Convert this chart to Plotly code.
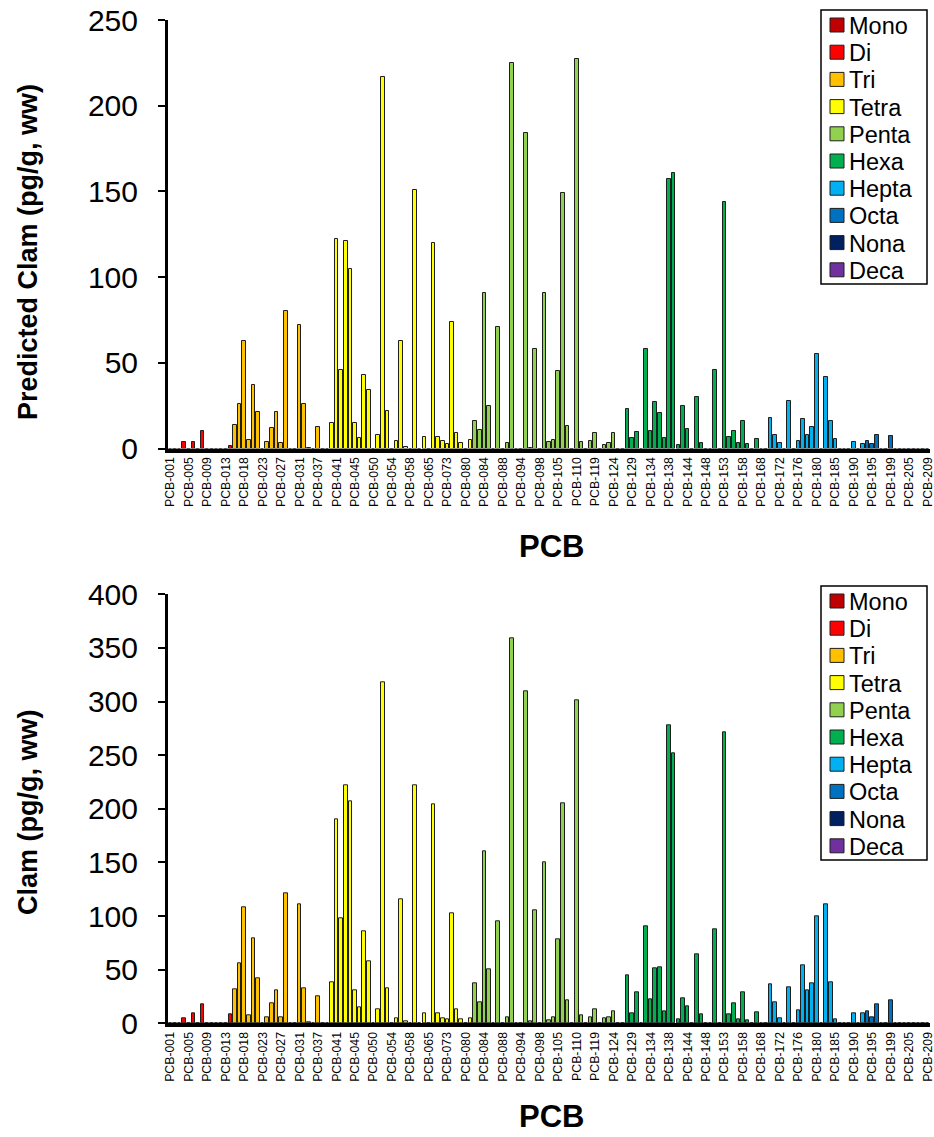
import plotly.graph_objects as go

# Congener numbers in elution/report order (165 reported PCB congeners)
congener_numbers = [
    1, 2, 3, 4, 5, 6, 7, 8, 9, 10, 11, 12, 13, 15, 16, 17, 18, 19, 20, 22,
    23, 24, 25, 26, 27, 28, 29, 30, 31, 32, 34, 35, 37, 38, 39, 40, 41, 42, 43, 44,
    45, 46, 47, 49, 50, 51, 52, 53, 54, 55, 56, 57, 58, 59, 61, 63, 65, 67, 69, 71,
    73, 74, 77, 78, 80, 81, 82, 83, 84, 85, 86, 87, 88, 89, 91, 92, 94, 95, 96, 97,
    98, 100, 102, 104, 105, 106, 107, 108, 110, 111, 114, 117, 119, 120, 121, 122, 124, 126, 127, 128,
    129, 130, 131, 132, 134, 135, 136, 137, 138, 139, 141, 142, 144, 145, 146, 147, 148, 149, 151, 152,
    153, 154, 155, 156, 158, 159, 162, 165, 168, 169, 170, 171, 172, 173, 174, 175, 176, 177, 178, 179,
    180, 181, 182, 183, 185, 186, 187, 189, 190, 191, 193, 194, 195, 196, 197, 198, 199, 200, 201, 202,
    205, 206, 207, 208, 209,
]
congeners = [f"PCB-{n:03d}" for n in congener_numbers]

# Predicted clam tissue concentrations (pg/g, ww), one value per congener
predicted_clam = [
    0, 0, 0, 4, 0, 4, 0, 10.5, 0, 0,
    0, 0, 0, 1.5, 14, 26, 63, 5, 37, 21.5,
    0, 4, 12, 21.5, 3.4, 80, 0, 0, 72, 26,
    0.5, 0, 12.7, 0, 0, 14.7, 122, 46, 121, 105,
    15, 6.3, 43, 34, 0, 8, 217, 22, 0, 4.5,
    63, 1, 0, 151, 0, 6.5, 0, 120, 7, 4.4,
    2.6, 74, 8.8, 3, 0, 5, 16, 11, 91, 25,
    0, 71, 0, 3, 225, 0, 0, 184, 0.5, 58,
    0, 91, 3.6, 5, 45, 149, 13.3, 0, 227, 3.8,
    0, 4.6, 8.8, 0, 2, 3, 8.8, 0, 0, 22.8,
    6, 9.8, 0, 58, 10.4, 27.3, 20.5, 5.9, 157, 161,
    2, 24.8, 11.5, 0, 29.8, 3, 0, 0, 46, 0,
    144, 6.5, 10.4, 3, 16.2, 2.6, 0, 5.4, 0, 0,
    17.6, 7.7, 3, 0, 27.9, 0, 4.2, 17, 7.7, 12.7,
    55, 0, 41.9, 16.2, 5.4, 0, 0, 0, 4, 0,
    2.6, 4.5, 2.6, 7.7, 0, 0, 7.1, 0, 0, 0,
    0, 0, 0, 0, 0,
]

# Measured clam tissue concentrations (pg/g, ww)
measured_clam = [
    0, 0, 0, 5, 0, 9, 0, 18, 0, 0,
    0, 0, 0, 8.5, 32, 56, 108, 7, 79, 42,
    0, 6, 19, 31, 6, 121, 0, 0, 111, 33,
    1, 0, 25, 0, 0, 38, 190, 98, 222, 207,
    31, 15, 86, 58, 0, 13, 318, 33, 0, 5,
    116, 2, 0, 222, 0, 9, 0, 204, 9, 5,
    4, 103, 13, 4, 0, 5, 37, 20, 160, 50,
    0, 95, 0, 6, 359, 0, 0, 310, 2, 105,
    0, 150, 3, 6, 78, 205, 21, 0, 301, 7,
    0, 6, 13, 0, 5, 6, 11, 0, 0, 45,
    9, 29, 0, 90, 22, 51, 52, 11, 278, 252,
    4, 23, 16, 0, 64, 8, 0, 0, 88, 0,
    271, 8, 19, 4, 29, 3, 0, 10, 0, 0,
    36, 20, 5, 0, 34, 0, 12, 54, 31, 37,
    100, 0, 111, 38, 4, 0, 0, 0, 9, 0,
    9, 11, 6, 18, 0, 0, 21, 0, 0, 0,
    0, 0, 0, 0, 0,
]

# Homolog groups: name, first and last congener number, fill colour
homologs = ["Mono", "Di", "Tri", "Tetra", "Penta", "Hexa", "Hepta", "Octa", "Nona", "Deca"]
homolog_first = [1, 4, 16, 40, 82, 128, 170, 194, 206, 209]
homolog_last = [3, 15, 39, 81, 127, 169, 193, 205, 208, 209]
homolog_colors = ["#C00000", "#FF0000", "#FFC000", "#FFFF00", "#92D050",
                  "#00B050", "#00B0F0", "#0070C0", "#002060", "#7030A0"]

W, H = 934, 1137
FONT = "Arial, Liberation Sans, sans-serif"
OUTLINE = "#1e1e1e"
x_dom = [168 / W, 930 / W]
panels = [
    dict(values=predicted_clam, xa="x", ya="y",
         ydom=[1 - 448.5 / H, 1 - 20 / H], ymax=250,
         title="Predicted Clam (pg/g, ww)", title_y=252, pcb_y=546, legend_top=10),
    dict(values=measured_clam, xa="x2", ya="y2",
         ydom=[1 - 1023.3 / H, 1 - 594.3 / H], ymax=400,
         title="Clam (pg/g, ww)", title_y=812, pcb_y=1116, legend_top=586),
]


def px(x):
    return x / W


def py(y):
    return 1 - y / H


fig = go.Figure()
for p in panels:
    for name, lo, hi, col in zip(homologs, homolog_first, homolog_last, homolog_colors):
        idx = [i for i, n in enumerate(congener_numbers) if lo <= n <= hi]
        fig.add_trace(go.Bar(
            x=[congeners[i] for i in idx],
            y=[p["values"][i] for i in idx],
            name=name,
            width=0.78,
            marker=dict(color=col, line=dict(color=OUTLINE, width=1)),
            xaxis=p["xa"], yaxis=p["ya"], showlegend=False,
        ))

tick_labels = congeners[::4]
common_x = dict(
    type="category", categoryorder="array", categoryarray=congeners,
    range=[-0.5, len(congeners) - 0.5], domain=x_dom,
    tickmode="array", tickvals=tick_labels, ticktext=tick_labels,
    tickangle=-90, tickfont=dict(family=FONT, size=12.3, color="black"),
    showline=True, linewidth=3.5, linecolor="black", ticks="",
    showgrid=False, zeroline=False, automargin=False, layer="above traces",
)
common_y = dict(
    dtick=50, ticks="outside", ticklen=7, tickwidth=2, tickcolor="black",
    tickfont=dict(family=FONT, size=30, color="black"), ticklabelstandoff=14,
    showline=True, linewidth=3, linecolor="black",
    showgrid=False, zeroline=False, automargin=False, layer="above traces",
)

fig.update_layout(
    width=W, height=H, margin=dict(l=0, r=0, t=0, b=0),
    paper_bgcolor="white", plot_bgcolor="white",
    barmode="overlay", bargap=0, showlegend=False,
    xaxis=dict(common_x, anchor="y"),
    yaxis=dict(common_y, anchor="x", domain=panels[0]["ydom"], range=[0, 250]),
    xaxis2=dict(common_x, anchor="y2"),
    yaxis2=dict(common_y, anchor="x2", domain=panels[1]["ydom"], range=[0, 400]),
    font=dict(family=FONT, color="black"),
)

# Axis titles and homolog key for each panel
row_step = 27.2
for p in panels:
    fig.add_annotation(text=p["title"], xref="paper", yref="paper",
                       x=px(28), y=py(p["title_y"]), textangle=-90,
                       showarrow=False, xanchor="center", yanchor="middle",
                       font=dict(family=FONT, size=27, color="black", weight="bold"))
    fig.add_annotation(text="PCB", xref="paper", yref="paper",
                       x=px(551), y=py(p["pcb_y"]),
                       showarrow=False, xanchor="center", yanchor="middle",
                       font=dict(family=FONT, size=31, color="black", weight="bold"))

    top = p["legend_top"]
    fig.add_shape(type="rect", xref="paper", yref="paper",
                  x0=px(821), x1=px(927), y0=py(top), y1=py(top + 274),
                  line=dict(color="black", width=1.5), fillcolor="white", layer="above")
    for k, (name, col) in enumerate(zip(homologs, homolog_colors)):
        cy = top + 15 + k * row_step
        fig.add_shape(type="rect", xref="paper", yref="paper",
                      x0=px(830), x1=px(844), y0=py(cy - 7), y1=py(cy + 7),
                      line=dict(color=OUTLINE, width=1), fillcolor=col, layer="above")
        fig.add_annotation(text=name, xref="paper", yref="paper",
                           x=px(848), y=py(cy + 1), showarrow=False,
                           xanchor="left", yanchor="middle", borderpad=0,
                           font=dict(family=FONT, size=23.5, color="black"))

fig.write_html("out.html")
